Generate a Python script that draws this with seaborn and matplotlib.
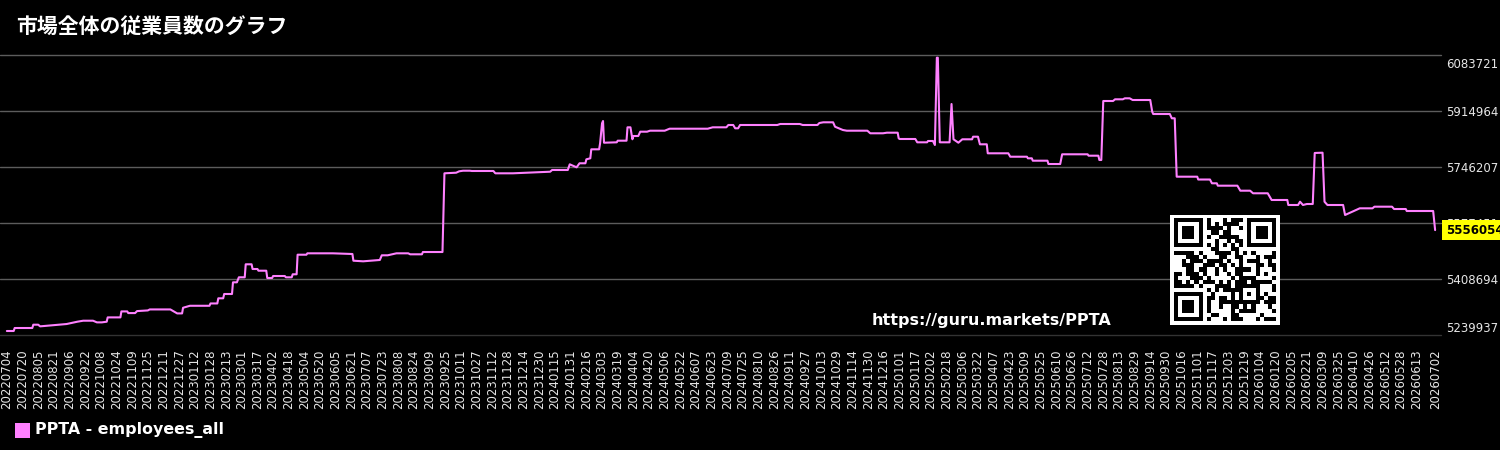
import numpy as np
import pandas as pd
import seaborn as sns
import matplotlib.pyplot as plt
from matplotlib.patches import Rectangle
from matplotlib.transforms import blended_transform_factory, offset_copy

# 読み取った値 (日付 / 従業員数)
dates = [
    "2022-07-04", "2022-07-11", "2022-07-12", "2022-07-30", "2022-07-31", "2022-08-05", "2022-08-07",
    "2022-09-03", "2022-09-14", "2022-09-20", "2022-09-30", "2022-10-04", "2022-10-09", "2022-10-14",
    "2022-10-15", "2022-10-28", "2022-10-29", "2022-11-04", "2022-11-05", "2022-11-12", "2022-11-14",
    "2022-11-25", "2022-11-27", "2022-12-18", "2022-12-25", "2022-12-30", "2022-12-31",
    "2023-01-07", "2023-01-27", "2023-01-28", "2023-02-04", "2023-02-05", "2023-02-10", "2023-02-11",
    "2023-02-19", "2023-02-20", "2023-02-24", "2023-02-26", "2023-03-04", "2023-03-05", "2023-03-11",
    "2023-03-12", "2023-03-17", "2023-03-18", "2023-03-26", "2023-03-27", "2023-04-01", "2023-04-02",
    "2023-04-14", "2023-04-15", "2023-04-21", "2023-04-22", "2023-04-26", "2023-04-27", "2023-05-06",
    "2023-05-07", "2023-06-02", "2023-06-22", "2023-06-23", "2023-07-03", "2023-07-20", "2023-07-22",
    "2023-07-28", "2023-08-06", "2023-08-18", "2023-08-20", "2023-09-01", "2023-09-02", "2023-09-22",
    "2023-09-24", "2023-10-06", "2023-10-09", "2023-10-13", "2023-10-20", "2023-10-22", "2023-11-13",
    "2023-11-15", "2023-12-03",
    "2024-01-10", "2024-01-12", "2024-01-28", "2024-01-30", "2024-02-06", "2024-02-09", "2024-02-15",
    "2024-02-16", "2024-02-20", "2024-02-21", "2024-02-29", "2024-03-01", "2024-03-03", "2024-03-04",
    "2024-03-05", "2024-03-18", "2024-03-19", "2024-03-28", "2024-03-29", "2024-04-01", "2024-04-03",
    "2024-04-04", "2024-04-09", "2024-04-11", "2024-04-18", "2024-04-21", "2024-05-06", "2024-05-11",
    "2024-06-19", "2024-06-24", "2024-07-08", "2024-07-10", "2024-07-15", "2024-07-17", "2024-07-20",
    "2024-07-22", "2024-08-29", "2024-09-01", "2024-09-21", "2024-09-24", "2024-10-09", "2024-10-11",
    "2024-10-15", "2024-10-25", "2024-10-27", "2024-11-04", "2024-11-08", "2024-11-29", "2024-12-02",
    "2024-12-15", "2024-12-19", "2024-12-30", "2024-12-31",
    "2025-01-01", "2025-01-17", "2025-01-19", "2025-01-29", "2025-01-30", "2025-02-04", "2025-02-06",
    "2025-02-08", "2025-02-09", "2025-02-11", "2025-02-21", "2025-02-23", "2025-02-25", "2025-03-02",
    "2025-03-06", "2025-03-16", "2025-03-17", "2025-03-22", "2025-03-24", "2025-03-31", "2025-04-01",
    "2025-04-22", "2025-04-24", "2025-05-11", "2025-05-12", "2025-05-16", "2025-05-17", "2025-06-01",
    "2025-06-02", "2025-06-14", "2025-06-16", "2025-07-12", "2025-07-13", "2025-07-23", "2025-07-24",
    "2025-07-26", "2025-07-28", "2025-08-07", "2025-08-09", "2025-08-17", "2025-08-19", "2025-08-24",
    "2025-08-27", "2025-09-14", "2025-09-16", "2025-09-17", "2025-10-04", "2025-10-06", "2025-10-09",
    "2025-10-11", "2025-11-01", "2025-11-02", "2025-11-14", "2025-11-16", "2025-11-21", "2025-11-22",
    "2025-12-12", "2025-12-15", "2025-12-25", "2025-12-28",
    "2026-01-12", "2026-01-16", "2026-02-01", "2026-02-02", "2026-02-12", "2026-02-14", "2026-02-17",
    "2026-02-21", "2026-02-27", "2026-03-01", "2026-03-09", "2026-03-11", "2026-03-14", "2026-03-30",
    "2026-04-01", "2026-04-16", "2026-04-29", "2026-05-01", "2026-05-19", "2026-05-21", "2026-06-02",
    "2026-06-03", "2026-06-30", "2026-07-02",
]
employees = [
    5252000, 5252000, 5261000, 5261000, 5271000, 5271000, 5266000,
    5273000, 5280000, 5283000, 5283000, 5278000, 5278000, 5280000,
    5293000, 5293000, 5311000, 5311000, 5306000, 5306000, 5312000,
    5314000, 5317000, 5317000, 5305000, 5305000, 5322000,
    5328000, 5328000, 5335000, 5335000, 5350500, 5350500, 5363500,
    5363500, 5398700, 5398700, 5413800, 5413800, 5453000, 5453000,
    5438800, 5438800, 5433700, 5433700, 5411700, 5411700, 5417700,
    5417700, 5413800, 5413800, 5422900, 5422900, 5481900, 5481900,
    5486100, 5486100, 5484000, 5463800, 5462000, 5466000, 5480100,
    5480100, 5486100, 5486100, 5483100, 5483100, 5490000, 5490000,
    5727200, 5729000, 5733200, 5735000, 5735000, 5734200, 5734200,
    5727200, 5727200,
    5732000, 5737200, 5737200, 5754300, 5745300, 5757400, 5757400,
    5769400, 5772400, 5799500, 5799500, 5817600, 5878000, 5884800,
    5819400, 5820600, 5825500, 5825500, 5865800, 5865800, 5829700,
    5839600, 5839600, 5852600, 5852600, 5855600, 5855600, 5861600,
    5861600, 5865800, 5865800, 5872800, 5872800, 5862800, 5862800,
    5872800, 5872800, 5875800, 5875800, 5872800, 5872800, 5878800,
    5880900, 5880900, 5867600, 5857700, 5855600, 5855600, 5847800,
    5847800, 5849600, 5849600, 5832700,
    5830600, 5830600, 5820600, 5820600, 5824600, 5824600, 5812500,
    6075600, 6075600, 5820600, 5820600, 5936000, 5829700, 5819400,
    5829700, 5829700, 5837500, 5837500, 5814600, 5814600, 5787500,
    5787500, 5777200, 5777200, 5772400, 5772400, 5765200, 5765200,
    5755200, 5755200, 5784500, 5784500, 5780300, 5780300, 5767300,
    5767300, 5945100, 5945100, 5950200, 5950200, 5953200, 5953200,
    5948100, 5948100, 5912800, 5905900, 5905900, 5893000, 5893000,
    5717000, 5717000, 5708500, 5708500, 5697100, 5697100, 5689900,
    5689900, 5674800, 5674800, 5667000,
    5667000, 5646800, 5646800, 5631700, 5631700, 5641600, 5631700,
    5634700, 5634700, 5788500, 5789300, 5641600, 5631700, 5631700,
    5601600, 5621700, 5621700, 5626600, 5626600, 5619600, 5619600,
    5613600, 5613600, 5556054,
]
y_ticks = [5239937, 5408694, 5577451, 5746207, 5914964, 6083721]
last_value = 5556054
title = "市場全体の従業員数のグラフ"
series_name = "PPTA - employees_all"
url = "https://guru.markets/PPTA"

line_color = "#ff80ff"

df = pd.DataFrame({"date": pd.to_datetime(dates), "employees": employees})

sns.set_theme(style="dark", rc={
    "figure.facecolor": "black",
    "axes.facecolor": "black",
    "savefig.facecolor": "black",
})
plt.rcParams["font.family"] = ["DejaVu Sans", "Noto Sans CJK JP"]

W, H = 1500, 450
fig = plt.figure(figsize=(15, 4.5), dpi=100)
ax = fig.add_axes([0, 1 - 335 / H, 1441 / W, 280 / H])

sns.lineplot(data=df, x="date", y="employees", ax=ax, color=line_color,
             linewidth=1.5, legend=False)

ax.set_xlim(pd.Timestamp("2022-06-27"), pd.Timestamp("2026-07-08"))
ax.set_ylim(y_ticks[0], y_ticks[-1])
ax.set_xlabel("")
ax.set_ylabel("")

# x軸ラベル: 16日ごと + 最終日
ticks = list(pd.date_range("2022-07-04", "2026-06-13", freq="16D")) + [pd.Timestamp("2026-07-02")]
ax.set_xticks(ticks)
ax.set_xticklabels([t.strftime("%Y%m%d") for t in ticks], rotation=90)

ax.yaxis.tick_right()
ax.set_yticks(y_ticks)
ax.set_yticklabels([str(v) for v in y_ticks])
ax.tick_params(axis="both", length=0, labelsize=8.5, colors="#e6e6e6")
ax.tick_params(axis="x", pad=10.5)
ax.tick_params(axis="y", pad=4)
labels = ax.get_yticklabels()
labels[0].set_va("bottom")
labels[-1].set_va("top")
labels[-1].set_transform(offset_copy(labels[-1].get_transform(), fig=fig, y=-2, units="points"))

ax.grid(axis="y", color="#5c5c5c", linewidth=1)
ax.grid(axis="x", visible=False)
for gl in ax.yaxis.get_gridlines():
    gl.set_clip_on(False)
ax.yaxis.get_gridlines()[0].set_color("#333333")
for s in ax.spines.values():
    s.set_visible(False)

# 最新値ラベル
tr = blended_transform_factory(fig.transFigure, ax.transData)
ax.text(1446 / W, last_value, str(last_value), transform=tr, fontsize=8.5,
        fontweight="bold", color="black", va="center", ha="left", clip_on=False,
        bbox=dict(boxstyle="square,pad=0.3", fc="#ffff00", ec="none"))

# タイトル
fig.text(16 / W, 1 - 26 / H, title, fontsize=15, fontweight="bold", color="white",
         va="center", ha="left", family=["Noto Sans CJK JP", "DejaVu Sans"])

# URL
fig.text(872 / W, 1 - 320 / H, url, fontsize=11.5, fontweight="bold", color="white",
         va="center", ha="left")

# QRコード風の図形 (URLのバイト列から模様を作る)
n = 25
bits = np.unpackbits(np.frombuffer((url * 30).encode(), dtype=np.uint8))[:n * n]
ii, jj = np.indices((n, n))
qr = bits.reshape(n, n) ^ ((ii * jj) % 3 == 0).astype(np.uint8)
qr[0:8, 0:8] = 0
qr[0:8, n - 8:] = 0
qr[n - 8:, 0:8] = 0
for r, c in [(0, 0), (0, n - 7), (n - 7, 0)]:
    qr[r:r + 7, c:c + 7] = 1
    qr[r + 1:r + 6, c + 1:c + 6] = 0
    qr[r + 2:r + 5, c + 2:c + 5] = 1
qr[16:21, 16:21] = 1
qr[17:20, 17:20] = 0
qr[18, 18] = 1
qr[6, 8:n - 8] = [(k + 1) % 2 for k in range(8, n - 8)]
qr[8:n - 8, 6] = [(k + 1) % 2 for k in range(8, n - 8)]
qr = np.pad(qr, 1, constant_values=0)
qax = fig.add_axes([1170 / W, 1 - 325 / H, 110 / W, 110 / H])
qax.imshow(qr, cmap="gray_r", interpolation="nearest", aspect="auto")
qax.set_axis_off()

# 凡例
fig.add_artist(Rectangle((15 / W, 1 - 438 / H), 15 / W, 15 / H,
                         transform=fig.transFigure, facecolor=line_color, edgecolor="none"))
fig.text(35 / W, 1 - 430 / H, series_name, fontsize=11.4, fontweight="bold",
         color="white", va="center", ha="left")

fig.savefig("out.png", dpi=100)
